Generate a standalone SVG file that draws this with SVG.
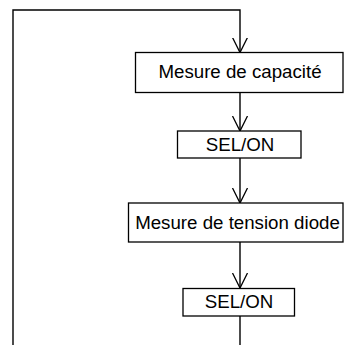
<svg xmlns="http://www.w3.org/2000/svg" width="344" height="345" viewBox="0 0 344 345">
<defs>
<marker id="arr" markerWidth="18" markerHeight="18" refX="15" refY="8" orient="auto" markerUnits="userSpaceOnUse" viewBox="0 0 18 16">
<path d="M0,0.5 L15,8 L0,15.5" fill="none" stroke="#000" stroke-width="1.3"/>
</marker>
</defs>
<style>
.box{fill:#fff;stroke:#000;stroke-width:1.3}
.lbl{font-family:"Liberation Sans",Arial,sans-serif;font-size:18.7px;fill:#000;text-anchor:middle}
.con{fill:none;stroke:#000;stroke-width:1.4}
</style>
<g id="connectors">
<polyline class="con" points="13,345 13,10 240,10 240,52.5" marker-end="url(#arr)"/>
<line class="con" x1="240" y1="92.5" x2="240" y2="131" marker-end="url(#arr)"/>
<line class="con" x1="240" y1="158" x2="240" y2="203" marker-end="url(#arr)"/>
<line class="con" x1="240" y1="242" x2="240" y2="288" marker-end="url(#arr)"/>
<line class="con" x1="240" y1="316" x2="240" y2="345"/>
</g>
<g id="node1">
<rect class="box" x="135.5" y="52.5" width="207.5" height="40"/>
<text class="lbl" x="240" y="77.5">Mesure de capacité</text>
</g>
<g id="node2">
<rect class="box" x="177.5" y="131" width="123.5" height="27"/>
<text class="lbl" x="240" y="150.5">SEL/ON</text>
</g>
<g id="node3">
<rect class="box" x="128.5" y="203" width="214.5" height="39"/>
<text class="lbl" x="237.5" y="228.5">Mesure de tension diode</text>
</g>
<g id="node4">
<rect class="box" x="183" y="288.5" width="111.5" height="27.5"/>
<text class="lbl" x="239" y="308">SEL/ON</text>
</g>
</svg>
